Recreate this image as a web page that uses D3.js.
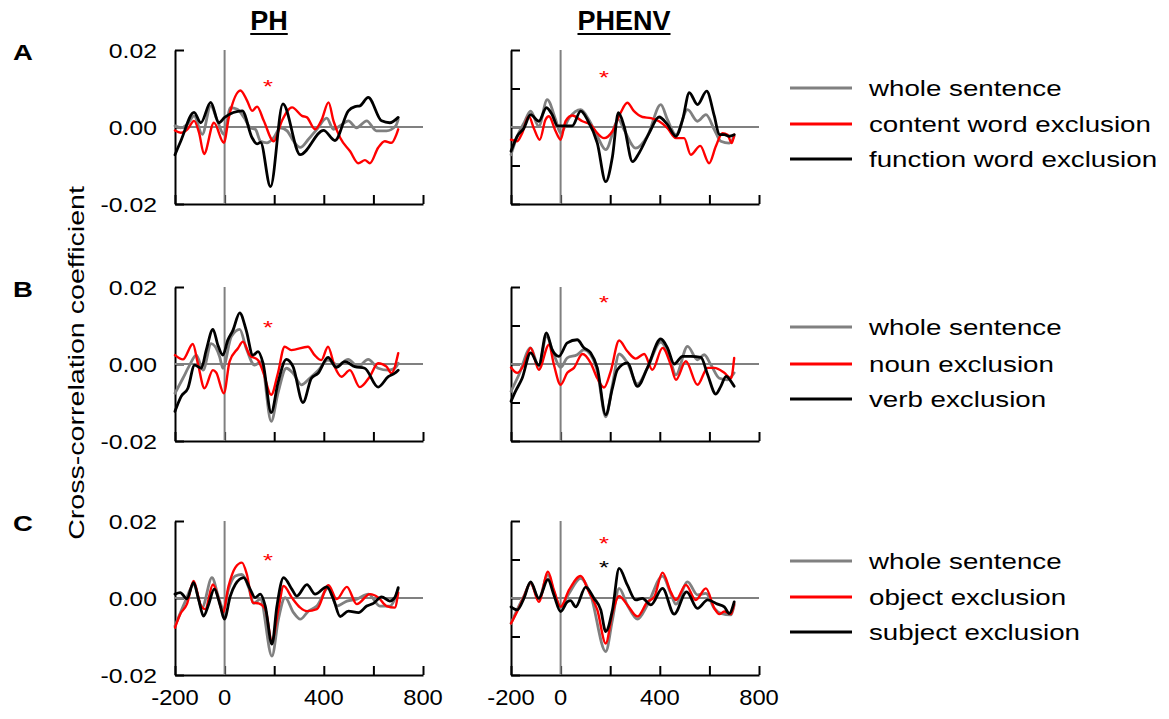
<!DOCTYPE html>
<html><head><meta charset="utf-8">
<script src="https://cdn.jsdelivr.net/npm/d3@7"></script>
<style>body{margin:0;background:#fff}svg{display:block}text{font-family:"Liberation Sans",Arial,sans-serif}</style>
</head><body><svg id="chart" width="1169" height="719"></svg>
<script>
// ---------- data (lag in ms, cross-correlation coefficient) ----------
const columnTitles = ["PH", "PHENV"];
const rowLetters = ["A", "B", "C"];
const legendRowA = ["whole sentence", "content word exclusion", "function word exclusion"];
const legendRowB = ["whole sentence", "noun exclusion", "verb exclusion"];
const legendRowC = ["whole sentence", "object exclusion", "subject exclusion"];
const timeTicks = [-200, 0, 200, 400, 600, 800];
const timeTickLabels = [-200, 0, 400, 800];
const coefTicksLabelled = [-0.02, 0, 0.02];
const coefTicksAll = [-0.02, -0.01, 0, 0.01, 0.02];
const yTitle = "Cross-correlation coefficient";

const ph_a_whole = [[-200,0.0003],[-177,-0.0002],[-150,0.0007],[-123,0.0029],[-90,-0.0019],[-56,0.0055],[-29,0.0016],[-3,-0.0019],[24,0.0050],[51,0.0046],[78,0.0025],[104,-0.0002],[124,-0.0006],[145,-0.0037],[171,-0.0041],[198,-0.0028],[225,-0.0002],[252,-0.0010],[278,-0.0037],[305,-0.0053],[338,-0.0032],[372,-0.0006],[412,0.0023],[439,-0.0006],[466,0.0003],[499,0.0016],[532,-0.0002],[573,0.0016],[612,-0.0010],[653,-0.0010],[690,0.0003],[700,0.0020]];
const ph_a_content = [[-200,-0.0009],[-177,-0.0015],[-150,-0.0006],[-123,0.0016],[-103,-0.0015],[-83,-0.0070],[-43,0.0011],[-3,-0.0041],[17,0.0025],[64,0.0095],[91,0.0068],[111,0.0042],[131,0.0053],[158,0.0016],[198,-0.0037],[231,0.0016],[272,0.0051],[312,0.0029],[332,0.0025],[365,-0.0006],[392,0.0020],[419,0.0064],[439,0.0016],[466,-0.0028],[506,-0.0063],[539,-0.0094],[566,-0.0086],[586,-0.0094],[619,-0.0054],[646,-0.0037],[673,-0.0041],[693,-0.0019],[700,-0.0006]];
const ph_a_function = [[-200,-0.0072],[-177,-0.0037],[-123,0.0038],[-96,0.0011],[-56,0.0064],[-23,0.0011],[0,0.0025],[71,0.0042],[111,-0.0028],[131,-0.0044],[145,-0.0040],[185,-0.0155],[235,0.0060],[305,-0.0072],[399,-0.0009],[445,-0.0035],[499,0.0042],[526,0.0053],[546,0.0055],[579,0.0077],[633,0.0016],[666,0.0011],[700,0.0025]];

const phenv_a_whole = [[-200,-0.0072],[-175,-0.0024],[-148,0.0010],[-121,0.0041],[-88,0.0002],[-54,0.0071],[-20,0.0019],[0,-0.0016],[34,0.0023],[81,0.0045],[114,0.0019],[148,-0.0024],[182,-0.0059],[233,0.0019],[256,-0.0007],[303,-0.0055],[350,-0.0024],[404,0.0058],[431,0.0019],[465,-0.0020],[512,0.0045],[552,0.0015],[586,0.0032],[620,-0.0007],[646,-0.0037],[680,-0.0042],[700,-0.0024]];
const phenv_a_content = [[-200,-0.0033],[-175,-0.0037],[-155,-0.0016],[-128,0.0028],[-108,-0.0003],[-84,-0.0033],[-61,0.0019],[-47,0.0028],[-20,-0.0011],[0,-0.0033],[20,0.0015],[47,0.0030],[88,0.0015],[121,0.0006],[148,-0.0016],[175,-0.0029],[209,-0.0011],[242,0.0037],[269,0.0063],[296,0.0041],[330,0.0026],[364,0.0023],[397,0.0015],[431,-0.0003],[465,-0.0029],[498,-0.0029],[525,-0.0072],[563,-0.0049],[599,-0.0094],[626,-0.0050],[653,-0.0016],[673,-0.0020],[690,-0.0042],[700,-0.0020]];
const phenv_a_function = [[-200,-0.0063],[-175,-0.0024],[-148,-0.0003],[-121,0.0032],[-88,0.0015],[-57,0.0050],[-34,0.0032],[-13,0.0003],[13,0.0003],[47,0.0003],[81,0.0041],[108,0.0019],[148,-0.0042],[182,-0.0142],[209,-0.0077],[233,0.0037],[256,0.0002],[290,-0.0090],[316,-0.0068],[357,-0.0016],[397,0.0026],[431,0.0006],[465,-0.0024],[492,0.0019],[519,0.0089],[552,0.0058],[589,0.0093],[620,0.0028],[640,-0.0020],[660,-0.0020],[680,-0.0024],[700,-0.0020]];

const ph_b_whole = [[-200,-0.0076],[-168,-0.0037],[-141,-0.0003],[-114,0.0023],[-87,-0.0016],[-54,0.0053],[-20,0.0019],[-7,-0.0011],[27,0.0071],[61,0.0090],[87,0.0041],[121,-0.0003],[148,0.0006],[188,-0.0149],[215,-0.0076],[249,-0.0011],[276,-0.0024],[310,-0.0054],[343,-0.0037],[377,-0.0017],[417,0.0010],[458,-0.0003],[498,0.0012],[538,-0.0007],[579,0.0012],[619,-0.0011],[660,-0.0016],[686,-0.0011],[700,0.0002]];
const ph_b_noun = [[-200,0.0023],[-168,0.0012],[-128,0.0052],[-108,0.0002],[-81,-0.0063],[-47,-0.0016],[-34,-0.0022],[-3,-0.0076],[20,0.0006],[54,0.0041],[74,0.0058],[101,0.0023],[135,0.0010],[155,-0.0020],[188,-0.0080],[215,-0.0024],[242,0.0045],[269,0.0036],[336,0.0045],[363,0.0023],[390,0.0010],[417,0.0045],[444,-0.0007],[471,-0.0033],[505,-0.0016],[545,-0.0060],[585,-0.0033],[619,0.0002],[653,-0.0007],[673,-0.0024],[700,0.0028]];
const ph_b_verb = [[-200,-0.0123],[-175,-0.0084],[-148,-0.0063],[-121,-0.0003],[-94,-0.0011],[-74,0.0036],[-47,0.0090],[-27,0.0049],[-7,0.0023],[13,0.0062],[34,0.0088],[61,0.0133],[87,0.0088],[114,0.0023],[135,0.0032],[155,0.0002],[188,-0.0126],[215,-0.0050],[249,0.0012],[276,-0.0007],[316,-0.0100],[350,-0.0037],[377,-0.0024],[417,0.0017],[451,-0.0009],[485,0.0006],[525,-0.0007],[565,-0.0011],[619,-0.0060],[660,-0.0033],[686,-0.0024],[700,-0.0016]];

const phenv_b_whole = [[-200,-0.0071],[-168,-0.0028],[-121,0.0042],[-88,-0.0006],[-57,0.0072],[-27,0.0024],[0,-0.0009],[27,0.0016],[67,0.0024],[94,0.0037],[121,0.0024],[148,-0.0019],[182,-0.0137],[209,-0.0054],[236,0.0026],[269,0.0003],[310,-0.0052],[350,-0.0010],[404,0.0057],[438,0.0020],[465,-0.0028],[512,0.0046],[552,0.0011],[579,0.0024],[606,-0.0002],[640,-0.0037],[673,-0.0041],[700,-0.0023]];
const phenv_b_noun = [[-200,-0.0009],[-175,-0.0023],[-148,-0.0002],[-121,0.0042],[-88,-0.0015],[-47,0.0050],[-27,-0.0002],[0,-0.0054],[27,-0.0023],[54,-0.0010],[88,0.0026],[121,0.0003],[148,-0.0037],[175,-0.0061],[202,-0.0019],[236,0.0061],[269,0.0033],[303,0.0014],[337,0.0026],[370,-0.0015],[411,0.0042],[444,-0.0002],[465,-0.0041],[505,0.0007],[552,-0.0054],[593,-0.0010],[620,-0.0010],[660,-0.0023],[687,-0.0037],[700,0.0016]];
const phenv_b_verb = [[-200,-0.0097],[-182,-0.0071],[-155,-0.0037],[-121,0.0029],[-88,-0.0003],[-57,0.0081],[-34,0.0037],[-7,0.0020],[27,0.0055],[67,0.0063],[94,0.0042],[121,0.0029],[148,-0.0010],[182,-0.0132],[209,-0.0063],[229,-0.0015],[269,0.0003],[310,-0.0058],[350,-0.0010],[404,0.0065],[431,0.0042],[458,0.0000],[492,0.0020],[525,0.0020],[566,0.0017],[593,-0.0028],[626,-0.0078],[646,-0.0058],[667,-0.0032],[687,-0.0045],[700,-0.0058]];

const ph_c_whole = [[-200,-0.0073],[-158,-0.0008],[-125,0.0035],[-91,-0.0025],[-51,0.0053],[-24,0.0001],[-4,-0.0029],[16,0.0023],[43,0.0057],[70,0.0061],[97,0.0027],[117,-0.0014],[144,-0.0003],[191,-0.0151],[217,-0.0055],[244,0.0001],[278,-0.0038],[305,-0.0055],[338,-0.0034],[372,-0.0021],[419,0.0027],[452,-0.0021],[493,-0.0008],[533,-0.0003],[580,0.0010],[626,-0.0021],[666,-0.0021],[700,0.0023]];
const ph_c_object = [[-200,-0.0077],[-179,-0.0042],[-152,-0.0016],[-125,0.0044],[-98,-0.0016],[-78,-0.0029],[-47,0.0035],[-24,-0.0003],[-7,-0.0038],[16,0.0031],[43,0.0079],[70,0.0092],[90,0.0061],[114,-0.0012],[137,-0.0014],[164,-0.0029],[191,-0.0112],[217,-0.0029],[238,0.0031],[271,0.0001],[305,-0.0025],[332,-0.0034],[372,-0.0029],[419,0.0033],[452,-0.0003],[493,0.0029],[533,-0.0016],[586,0.0010],[620,0.0001],[653,-0.0021],[686,-0.0025],[700,0.0014]];
const ph_c_subject = [[-200,0.0010],[-179,0.0014],[-152,-0.0002],[-125,0.0040],[-105,-0.0003],[-85,-0.0047],[-64,-0.0016],[-42,0.0023],[-17,-0.0021],[-1,-0.0055],[23,0.0005],[43,0.0035],[77,0.0053],[103,0.0023],[123,0.0001],[144,0.0010],[164,-0.0021],[191,-0.0120],[211,-0.0021],[238,0.0053],[271,0.0023],[291,0.0005],[332,0.0035],[365,0.0010],[412,0.0029],[439,-0.0003],[466,-0.0048],[499,-0.0034],[540,-0.0038],[573,-0.0021],[600,-0.0014],[633,0.0003],[666,-0.0008],[686,0.0001],[700,0.0027]];

const phenv_c_whole = [[-200,-0.0066],[-175,-0.0030],[-148,0.0005],[-121,0.0038],[-88,-0.0001],[-51,0.0060],[-27,0.0016],[0,-0.0023],[34,0.0012],[81,0.0051],[121,0.0008],[182,-0.0139],[209,-0.0057],[236,0.0025],[269,-0.0018],[310,-0.0055],[350,-0.0018],[411,0.0057],[444,0.0012],[465,-0.0016],[512,0.0042],[552,0.0008],[586,0.0012],[620,-0.0027],[646,-0.0040],[687,-0.0044],[700,-0.0018]];
const phenv_c_object = [[-200,-0.0066],[-175,-0.0035],[-148,0.0003],[-121,0.0040],[-88,-0.0010],[-51,0.0068],[-27,0.0021],[0,-0.0023],[34,0.0021],[81,0.0057],[114,0.0016],[148,-0.0031],[182,-0.0118],[209,-0.0040],[236,0.0005],[269,-0.0018],[310,-0.0048],[350,-0.0010],[377,0.0002],[411,0.0066],[444,0.0016],[465,-0.0005],[505,0.0034],[545,-0.0005],[586,0.0025],[620,-0.0027],[640,-0.0042],[660,-0.0035],[687,-0.0042],[700,-0.0014]];
const phenv_c_subject = [[-200,-0.0023],[-175,-0.0031],[-148,-0.0001],[-121,0.0042],[-88,-0.0001],[-51,0.0048],[-27,0.0008],[0,-0.0035],[27,-0.0010],[40,-0.0007],[61,-0.0023],[101,0.0028],[135,-0.0001],[162,-0.0031],[182,-0.0087],[209,-0.0031],[236,0.0077],[269,0.0034],[303,-0.0005],[330,-0.0001],[364,-0.0018],[411,0.0025],[458,-0.0042],[508,0.0016],[552,-0.0027],[593,-0.0005],[633,-0.0016],[660,-0.0023],[680,-0.0040],[700,-0.0010]];

// significance markers per panel [row][col]: list of [lag, coefficient position, series index]
const starsA = [[[175, 0.0116, 1]], [[175, 0.0140, 1]]];
const starsB = [[[175, 0.0106, 1]], [[175, 0.0171, 1]]];
const starsC = [[[175, 0.0109, 1]], [[175, 0.0152, 1], [175, 0.0091, 2]]];

// ---------- styles & layout ----------
const seriesColors = ["#808080", "#ff0000", "#000000"];
const seriesWidths = [2.8, 2.4, 2.8];
const colLeft = [175, 511];
const plotW = 248;
const rowTop = [50, 287, 521];
const plotH = 154;

const panelSeries = [
  [[ph_a_whole, ph_a_content, ph_a_function], [phenv_a_whole, phenv_a_content, phenv_a_function]],
  [[ph_b_whole, ph_b_noun, ph_b_verb], [phenv_b_whole, phenv_b_noun, phenv_b_verb]],
  [[ph_c_whole, ph_c_object, ph_c_subject], [phenv_c_whole, phenv_c_object, phenv_c_subject]]
];
const panelStars = [starsA, starsB, starsC];
const legends = [legendRowA, legendRowB, legendRowC];

const svg = d3.select("#chart");

function stretchedText(parent, x, y, str, size, sx, opts = {}) {
  return parent.append("text")
    .attr("transform", `translate(${x},${y}) scale(${sx},1)`)
    .attr("font-size", size)
    .attr("font-weight", opts.bold ? "bold" : null)
    .attr("text-anchor", opts.anchor || "start")
    .style("fill", opts.fill || "#000")
    .text(str);
}

const xScales = colLeft.map(l => d3.scaleLinear().domain([-200, 800]).range([l, l + plotW]));
const yScales = rowTop.map(t => d3.scaleLinear().domain([-0.02, 0.02]).range([t + plotH, t]));

for (let r = 0; r < 3; r++) {
  for (let c = 0; c < 2; c++) {
    const x = xScales[c], y = yScales[r];
    const g = svg.append("g");
    const yAx = d3.axisLeft(y).tickValues(c === 0 ? coefTicksLabelled : coefTicksAll)
      .tickSizeInner(-9).tickSizeOuter(0).tickFormat("");
    const gy = g.append("g").attr("transform", `translate(${x(-200)},0)`).call(yAx);
    const xAx = d3.axisBottom(x).tickValues(timeTicks).tickSizeInner(-9).tickSizeOuter(0).tickFormat("");
    const gx = g.append("g").attr("transform", `translate(0,${y(-0.02)})`).call(xAx);
    [gy, gx].forEach(a => { a.selectAll("path,line").attr("stroke", "#000").attr("stroke-width", 2); });

    g.append("line").attr("x1", x(-200)).attr("x2", x(800)).attr("y1", y(0)).attr("y2", y(0))
      .attr("stroke", "#808080").attr("stroke-width", 2);
    g.append("line").attr("x1", x(0)).attr("x2", x(0)).attr("y1", y(0.02)).attr("y2", y(-0.02))
      .attr("stroke", "#808080").attr("stroke-width", 2);

    const line = d3.line().x(d => x(d[0])).y(d => y(d[1])).curve(d3.curveMonotoneX);
    panelSeries[r][c].forEach((s, i) => {
      g.append("path").attr("d", line(s)).attr("fill", "none")
        .attr("stroke", seriesColors[i]).attr("stroke-width", seriesWidths[i])
        .attr("stroke-linejoin", "round").attr("stroke-linecap", "round");
    });

    // significance stars
    panelStars[r][c].forEach(s => {
      stretchedText(svg, x(s[0]), y(s[1]) + 11, "*", 19, 1.35,
        { anchor: "middle", fill: seriesColors[s[2]] });
    });

    if (c === 0) {
      coefTicksLabelled.forEach(v => {
        stretchedText(svg, x(-200) - 18, y(v) + 7.5, v.toFixed(2), 21, 1.18, { anchor: "end" });
      });
    }
    if (r === 2) {
      timeTickLabels.forEach(v => {
        stretchedText(svg, x(v), y(-0.02) + 30, String(v), 22, 1.08, { anchor: "middle" });
      });
    }
  }
}

columnTitles.forEach((tt, c) => {
  const cx = c === 0 ? 269 : 624;
  const txt = stretchedText(svg, cx, 30, tt, 27, 1.0, { anchor: "middle", bold: true });
  const bb = txt.node().getBBox();
  svg.append("line").attr("x1", cx - bb.width / 2).attr("x2", cx + bb.width / 2)
    .attr("y1", 34).attr("y2", 34).attr("stroke", "#000").attr("stroke-width", 2);
});

rowLetters.forEach((L, r) => {
  stretchedText(svg, 13, rowTop[r] + 10, L, 22, 1.25, { bold: true });
});

svg.append("text")
  .attr("transform", `translate(84,363) rotate(-90) scale(1.3,1)`)
  .attr("font-size", 22).attr("text-anchor", "middle").style("fill", "#000").text(yTitle);

const legendY = [[88, 124, 159], [327, 364, 399], [561, 597, 632]];
legends.forEach((labels, r) => {
  labels.forEach((lab, i) => {
    const yy = legendY[r][i];
    svg.append("line").attr("x1", 790).attr("x2", 852).attr("y1", yy).attr("y2", yy)
      .attr("stroke", seriesColors[i]).attr("stroke-width", 3);
    stretchedText(svg, 869, yy + 8, lab, 22, 1.26);
  });
});
</script></body></html>
